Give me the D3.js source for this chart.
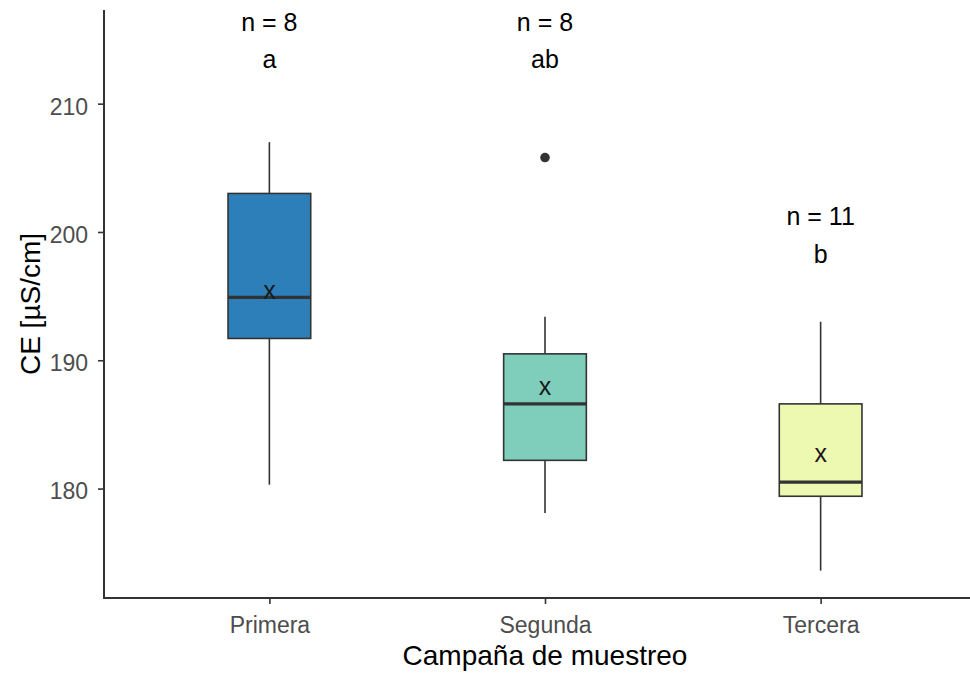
<!DOCTYPE html>
<html>
<head>
<meta charset="utf-8">
<script src="https://cdn.jsdelivr.net/npm/d3@7"></script>
<style>
  body { margin: 0; background: #fff; }
  text { font-family: "Liberation Sans", Arial, sans-serif; }
</style>
</head>
<body>
<svg id="chart" width="970" height="675"></svg>
<script>
// campaigns and box stats
var campaigns = ["Primera", "Segunda", "Tercera"];
var whiskerLow = [180.3, 178.1, 173.6];
var q1 = [191.7, 182.2, 179.4];
var medians = [194.9, 186.6, 180.5];
var q3 = [203.0, 190.5, 186.6];
var whiskerHigh = [207.0, 193.4, 193.0];
var means = [195.3, 187.8, 182.6];
var outliers = [[], [205.8], []];
var nLabels = ["n = 8", "n = 8", "n = 11"];
var nLabelY = [215.7, 215.7, 200.55];
var letters = ["a", "ab", "b"];
var letterY = [212.75, 212.75, 197.6];
var fills = ["#2c7fb8", "#7fcdbb", "#edf8b1"];
var yTicks = [180, 190, 200, 210];

var svg = d3.select("#chart");
var mLeft = 104, mTop = 10, mBottom = 598, mRight = 986;

var x = d3.scalePoint()
    .domain(campaigns)
    .range([mLeft, mRight])
    .padding(0.6);
var step = x.step();

var y = d3.scaleLinear()
    .domain([171.47, 217.3])
    .range([mBottom, mTop]);

var boxW = step * 0.3;
var ink = "#333333";

var g = svg.append("g");

campaigns.forEach(function(c, i) {
    var cx = x(c);
    // whiskers
    g.append("line")
        .attr("x1", cx).attr("x2", cx)
        .attr("y1", y(whiskerHigh[i])).attr("y2", y(q3[i]))
        .attr("stroke", ink).attr("stroke-width", 1.6);
    g.append("line")
        .attr("x1", cx).attr("x2", cx)
        .attr("y1", y(q1[i])).attr("y2", y(whiskerLow[i]))
        .attr("stroke", ink).attr("stroke-width", 1.6);
    // box
    g.append("rect")
        .attr("x", cx - boxW / 2)
        .attr("y", y(q3[i]))
        .attr("width", boxW)
        .attr("height", y(q1[i]) - y(q3[i]))
        .attr("fill", fills[i])
        .attr("stroke", ink).attr("stroke-width", 1.6);
    // median
    g.append("line")
        .attr("x1", cx - boxW / 2).attr("x2", cx + boxW / 2)
        .attr("y1", y(medians[i])).attr("y2", y(medians[i]))
        .attr("stroke", ink).attr("stroke-width", 3.2);
    // outliers
    outliers[i].forEach(function(v) {
        g.append("circle")
            .attr("cx", cx).attr("cy", y(v)).attr("r", 4.8)
            .attr("fill", ink);
    });
    // mean marker
    g.append("text")
        .attr("x", cx).attr("y", y(means[i]))
        .attr("dy", "0.26em")
        .attr("text-anchor", "middle")
        .attr("font-size", 25)
        .attr("fill", "#1a1a1a")
        .text("x");
    // n and letters (y = baseline)
    g.append("text")
        .attr("x", cx).attr("y", y(nLabelY[i]))
        .attr("text-anchor", "middle")
        .attr("font-size", 25)
        .attr("fill", "#000")
        .text(nLabels[i]);
    g.append("text")
        .attr("x", cx).attr("y", y(letterY[i]))
        .attr("text-anchor", "middle")
        .attr("font-size", 25)
        .attr("fill", "#000")
        .text(letters[i]);
});

// axes
var yAxis = svg.append("g")
    .attr("transform", "translate(" + mLeft + ",0)")
    .call(d3.axisLeft(y).tickValues(yTicks).tickSize(6).tickPadding(10));
var xAxis = svg.append("g")
    .attr("transform", "translate(0," + mBottom + ")")
    .call(d3.axisBottom(x).tickSize(6));

[yAxis, xAxis].forEach(function(ax) {
    ax.select(".domain").remove();
    ax.selectAll(".tick line").attr("stroke", ink).attr("stroke-width", 1.6);
    ax.selectAll(".tick text")
        .attr("fill", "#4d4d4d")
        .attr("font-size", 23)
        .attr("font-family", "Liberation Sans, Arial, sans-serif");
});
yAxis.selectAll(".tick text").attr("dy", "0.45em");
xAxis.selectAll(".tick text").attr("y", 35).attr("dy", 0);

svg.append("line")
    .attr("x1", mLeft).attr("x2", mLeft)
    .attr("y1", mTop).attr("y2", mBottom)
    .attr("stroke", ink).attr("stroke-width", 2);
svg.append("line")
    .attr("x1", mLeft - 1).attr("x2", 970)
    .attr("y1", mBottom).attr("y2", mBottom)
    .attr("stroke", ink).attr("stroke-width", 2);

// titles
svg.append("text")
    .attr("x", (mLeft + mRight) / 2)
    .attr("y", 665)
    .attr("text-anchor", "middle")
    .attr("font-size", 28)
    .attr("fill", "#000")
    .text("Campaña de muestreo");
svg.append("text")
    .attr("transform", "translate(40," + (mTop + mBottom) / 2 + ") rotate(-90)")
    .attr("text-anchor", "middle")
    .attr("font-size", 28)
    .attr("fill", "#000")
    .text("CE [µS/cm]");
</script>
</body>
</html>
